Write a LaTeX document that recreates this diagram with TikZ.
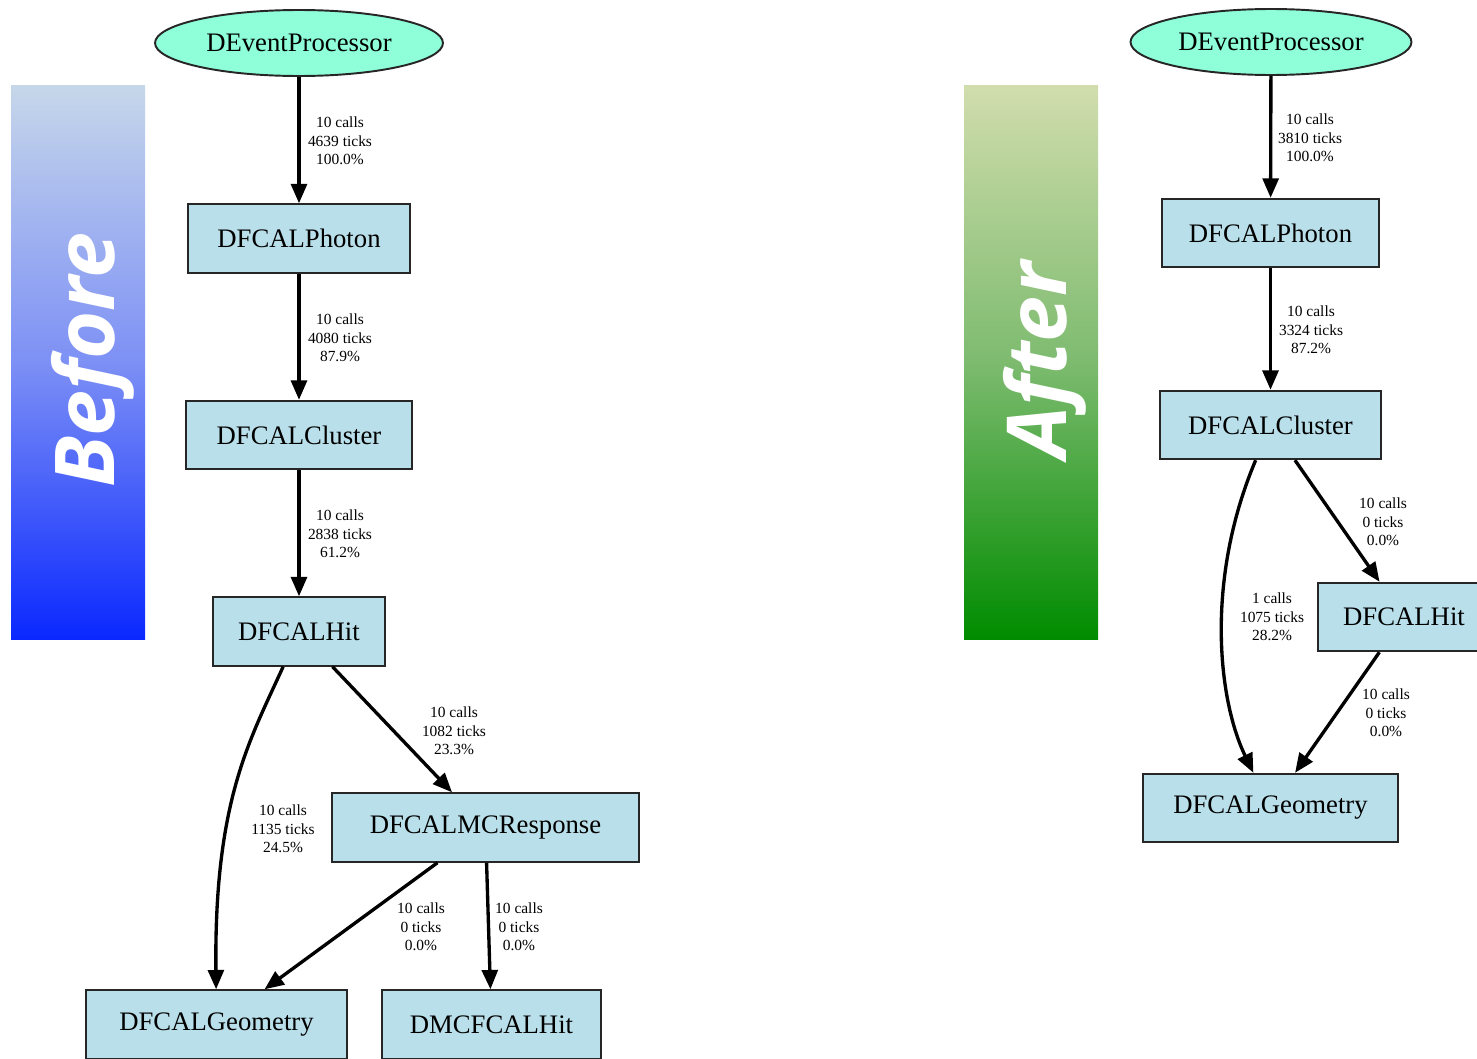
\documentclass[tikz,border=0pt]{standalone}
\usepackage{fontspec}
\setmainfont{Liberation Serif}
\newfontfamily\barfont{Open Sans}
\usepackage{tikz}
\usetikzlibrary{arrows.meta}
\usetikzlibrary{shapes.geometric}
\definecolor{procgreen}{HTML}{8EFFD9}
\definecolor{factblue}{HTML}{B9E0EA}
\definecolor{beforetop}{HTML}{C6D7EA}
\definecolor{beforemid}{HTML}{7D90F5}
\definecolor{beforebot}{HTML}{0A28FF}
\definecolor{aftertop}{HTML}{D1DDAD}
\definecolor{aftermid}{HTML}{7DBB6F}
\definecolor{afterbot}{HTML}{008C00}
\tikzset{
    fact/.style={draw=black!85, line width=1.1pt, fill=factblue, minimum height=1.37cm, font=\fontsize{15.2}{18}\selectfont},
    proc/.style={ellipse, draw=black!85, line width=1.1pt, fill=procgreen, minimum height=1.32cm, font=\fontsize{15.2}{18}\selectfont},
    call/.style={-{Triangle[length=11pt,width=9pt]}, line width=1.9pt},
    ticks/.style={align=center, font=\fontsize{8.8}{10.5}\selectfont},
    barlabel/.style={rotate=90, text=white, font=\barfont\bfseries\itshape\fontsize{47}{56}\selectfont}
}

\begin{document}
\begin{tikzpicture}[x=0.02cm,y=-0.02cm]
\useasboundingbox (0,0) rectangle (1477,1058);
\clip (0,0) rectangle (1477,1058);
\shade[top color=beforetop, bottom color=beforebot, middle color=beforemid] (11,85) rectangle (145,639);
\node[barlabel] (before) at (93,360) {Before};
\shade[top color=aftertop, bottom color=afterbot, middle color=aftermid] (964,85) rectangle (1098,639);
\node[barlabel] (after) at (1045,360) {After};
\foreach \x/\y/\w/\p in {299/43/5.76/procB, 1271/42/5.62/procA}{
    \node[proc, minimum width=\w cm] (\p) at (\x,\y) {DEventProcessor};
}
\foreach \x/\y/\w/\p/\labeltext in {299/238.5/4.44/photonB/DFCALPhoton, 299/435/4.52/clusterB/DFCALCluster, 299/631.5/3.44/hitB/DFCALHit, 485.5/827.5/6.14/mcrB/DFCALMCResponse, 216.5/1024.5/5.22/geoB/DFCALGeometry, 491.5/1024.5/4.38/dmcB/DMCFCALHit, 1270.5/233/4.34/photonA/DFCALPhoton, 1270.5/425/4.42/clusterA/DFCALCluster, 1404/617/3.44/hitA/DFCALHit, 1270.5/808/5.10/geoA/DFCALGeometry}{
    \node[fact, minimum width=\w cm] (\p) at (\x,\y) {\labeltext};
}
\foreach \a/\b in {procB/photonB, photonB/clusterB, clusterB/hitB, hitB/mcrB, mcrB/geoB, mcrB/dmcB, procA/photonA, photonA/clusterA, clusterA/hitA, hitA/geoA}{
    \draw[call] (\a) -- (\b);
}
\draw[call] (hitB) .. controls (250,740) and (214,800) .. (geoB);
\draw[call] (clusterA) .. controls (1205,580) and (1218,700) .. (geoA);
\foreach \x/\y/\p/\labeltext in {340/141/tB1/{10 calls\\4639 ticks\\100.0\%}, 340/338/tB2/{10 calls\\4080 ticks\\87.9\%}, 340/534/tB3/{10 calls\\2838 ticks\\61.2\%}, 454/731/tB4/{10 calls\\1082 ticks\\23.3\%}, 283/829/tB5/{10 calls\\1135 ticks\\24.5\%}, 421/927/tB6/{10 calls\\0 ticks\\0.0\%}, 519/927/tB7/{10 calls\\0 ticks\\0.0\%}, 1310/138/tA1/{10 calls\\3810 ticks\\100.0\%}, 1311/330/tA2/{10 calls\\3324 ticks\\87.2\%}, 1383/522/tA3/{10 calls\\0 ticks\\0.0\%}, 1272/617/tA4/{1 calls\\1075 ticks\\28.2\%}, 1386/713/tA5/{10 calls\\0 ticks\\0.0\%}}{
    \node[ticks] (\p) at (\x,\y) {\labeltext};
}
\end{tikzpicture}
\end{document}
